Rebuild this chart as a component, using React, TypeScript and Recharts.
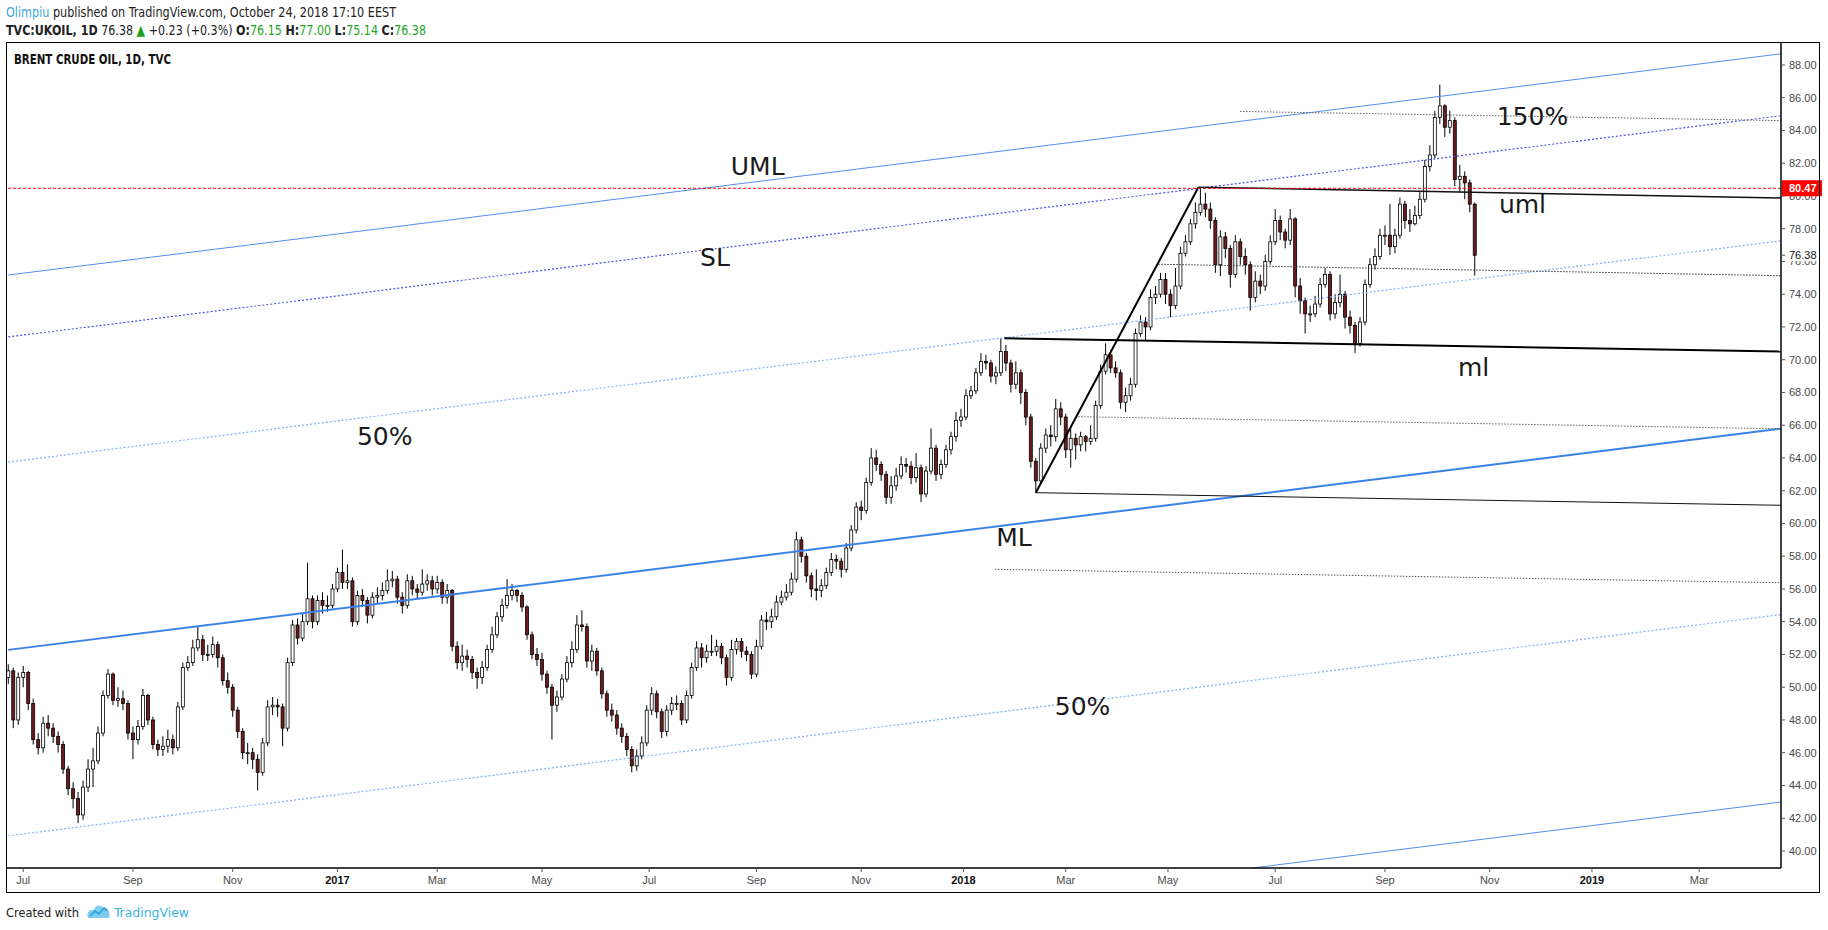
import React from 'react';
import { ComposedChart, Bar, XAxis, YAxis, ReferenceLine, ReferenceDot } from 'recharts';

// ---------- DATA (2 trading days per candle, x = trading-day index) ----------
const barStep = 2;
const firstOpen = 50.6;
const closes = [
  51.0, 48.0, 50.6, 50.9, 49.0, 46.8, 46.3, 47.8, 47.5, 47.0,
  46.5, 45.0, 43.8, 43.2, 42.2, 43.9, 45.0, 45.5, 47.2, 49.5,
  50.8, 49.2, 49.3, 49.0, 47.2, 46.8, 47.6, 49.5, 48.0, 46.5,
  46.2, 46.4, 46.8, 46.3, 48.8, 51.2, 51.5, 52.4, 52.9, 52.0,
  52.0, 52.6, 51.8, 50.4, 50.0, 48.6, 47.3, 46.0, 46.0, 45.6,
  44.8, 46.6, 48.8, 48.9, 48.8, 47.5, 51.5, 53.8, 53.0, 54.0,
  55.4, 54.0, 55.3, 55.0, 55.0, 56.0, 57.0, 56.4, 56.5, 54.0,
  55.6, 55.3, 54.4, 55.5, 55.6, 55.9, 56.5, 56.6, 55.5, 55.0,
  56.5, 56.0, 55.8, 56.3, 56.5, 56.0, 56.4, 55.5, 55.9, 52.5,
  51.5, 51.9, 51.7, 50.9, 50.6, 51.2, 52.3, 53.2, 54.3, 55.0,
  55.6, 55.9, 55.6, 54.9, 53.2, 52.0, 51.7, 50.8, 50.0, 48.9,
  49.4, 50.5, 51.5, 52.3, 53.8, 53.7, 51.6, 52.2, 51.0, 49.6,
  48.6, 48.3, 47.5, 47.0, 46.2, 45.2, 45.8, 46.6, 48.6, 49.6,
  48.5, 47.3, 48.6, 49.0, 49.0, 48.0, 49.5, 51.2, 52.4, 51.8,
  52.2, 52.2, 52.5, 51.8, 50.6, 52.3, 52.8, 52.2, 52.0, 50.8,
  52.5, 54.1, 54.0, 54.3, 55.2, 55.5, 55.8, 56.6, 59.0, 58.0,
  56.8, 56.0, 55.9, 56.2, 57.0, 57.8, 57.7, 57.2, 58.5, 59.6,
  61.0, 60.8, 62.5, 64.0, 63.6, 63.0, 61.6, 62.3, 62.9, 63.6,
  63.5, 62.8, 63.4, 61.8, 63.2, 64.6, 63.0, 63.6, 64.5, 65.3,
  66.3, 66.5, 67.8, 68.1, 69.2, 69.9, 69.8, 69.0, 69.2, 70.5,
  69.8, 68.5, 69.2, 68.0, 66.5, 63.8, 62.6, 64.6, 65.4, 65.3,
  67.0, 66.5, 64.5, 65.2, 64.8, 65.3, 65.0, 65.2, 67.2, 69.3,
  70.3, 69.5, 69.2, 67.4, 67.8, 68.5, 71.6, 72.3, 72.0, 73.8,
  74.0, 74.9, 74.0, 73.3, 74.5, 76.5, 77.2, 78.3, 79.0, 79.5,
  79.2, 78.5, 75.8, 77.5, 76.8, 75.2, 77.2, 76.3, 75.8, 73.8,
  74.8, 74.5, 76.0, 77.2, 78.5, 77.8, 77.3, 78.6, 74.5, 73.6,
  72.8, 72.8, 73.4, 74.6, 75.2, 72.8, 73.5, 74.0, 72.6, 72.1,
  71.0, 72.3, 74.6, 75.8, 76.3, 77.6, 77.6, 76.9, 77.6, 79.5,
  78.5, 78.3, 78.8, 79.8, 81.8, 82.5, 84.8, 85.5, 84.2, 84.6,
  81.0, 81.2, 80.8, 79.5, 76.38,
];
const highs = [
  51.4, 51.2, 50.9, 51.3, 51.0, 49.3, 47.2, 48.2, 48.3, 47.8,
  47.3, 46.7, 45.2, 44.2, 43.6, 44.3, 45.6, 46.3, 47.6, 49.8,
  51.1, 50.9, 50.0, 49.8, 49.2, 47.6, 48.0, 49.9, 49.6, 48.2,
  46.8, 47.0, 47.4, 47.1, 49.1, 51.5, 51.9, 52.9, 53.7, 53.2,
  52.6, 53.1, 52.8, 52.0, 50.9, 50.2, 48.8, 47.5, 46.6, 46.3,
  45.9, 46.9, 49.2, 49.4, 49.3, 49.0, 51.8, 54.1, 54.2, 54.5,
  57.6, 55.6, 55.6, 55.8, 55.6, 56.3, 57.3, 58.4, 57.5, 56.7,
  55.9, 56.0, 55.5, 55.8, 56.1, 56.4, 57.2, 57.1, 56.8, 55.8,
  56.9, 56.8, 56.3, 57.2, 56.9, 56.8, 56.8, 56.6, 56.3, 56.0,
  52.8, 52.6, 52.3, 51.9, 51.2, 51.6, 52.6, 53.7, 54.6, 55.4,
  56.6, 56.3, 56.0, 55.8, 55.0, 53.4, 52.4, 52.1, 51.0, 50.2,
  49.8, 50.8, 51.9, 52.8, 54.4, 54.7, 53.9, 52.6, 52.4, 51.2,
  49.8, 49.0, 48.6, 47.8, 47.2, 46.4, 46.2, 47.0, 48.9, 50.0,
  49.8, 48.7, 48.9, 49.4, 49.5, 49.2, 49.8, 51.5, 52.8, 52.7,
  52.6, 53.2, 52.9, 52.7, 52.0, 52.9, 53.0, 53.0, 52.5, 52.2,
  52.9, 54.4, 54.6, 54.8, 55.6, 55.9, 56.3, 57.0, 59.5, 59.2,
  58.2, 57.0, 57.2, 56.6, 57.3, 58.2, 58.1, 57.9, 58.8, 59.9,
  61.3, 61.4, 62.8, 64.6, 64.5, 63.8, 63.2, 62.9, 63.4, 64.1,
  64.0, 63.8, 64.3, 63.6, 63.5, 65.8, 64.8, 63.9, 64.8, 65.6,
  66.8, 67.0, 68.2, 68.4, 69.5, 70.4, 70.3, 70.0, 69.6, 71.3,
  70.9, 70.0, 69.9, 69.4, 68.2, 66.7, 64.0, 64.9, 65.8, 66.0,
  67.6, 67.4, 66.7, 65.8, 65.5, 65.6, 65.4, 66.0, 67.5, 69.7,
  71.0, 70.6, 69.9, 69.4, 68.3, 68.9, 71.9, 72.7, 72.6, 74.3,
  74.5, 75.3, 75.3, 74.3, 75.6, 76.9, 77.6, 78.6, 79.6, 80.5,
  80.2, 79.6, 78.7, 77.9, 77.8, 77.0, 77.6, 77.4, 76.8, 76.0,
  75.4, 75.2, 76.4, 77.6, 79.2, 78.8, 78.0, 79.2, 78.7, 75.0,
  73.8, 73.3, 73.9, 75.0, 75.6, 75.4, 74.0, 75.2, 74.2, 73.0,
  72.3, 72.6, 74.9, 76.2, 76.8, 78.0, 78.2, 79.5, 78.0, 79.9,
  79.7, 79.2, 79.4, 80.3, 82.2, 83.1, 85.2, 86.8, 85.6, 85.2,
  84.8, 81.9, 81.5, 81.0, 79.6,
];
const lows = [
  50.2, 47.5, 47.7, 50.0, 48.6, 46.5, 45.9, 46.0, 47.0, 46.6,
  46.0, 44.7, 43.4, 42.6, 41.7, 41.9, 43.6, 43.9, 45.3, 47.0,
  49.3, 48.9, 48.8, 48.6, 46.8, 45.6, 46.5, 47.4, 47.7, 46.2,
  45.8, 45.8, 46.0, 45.9, 46.1, 48.6, 51.0, 51.3, 52.2, 51.6,
  51.6, 51.8, 51.2, 50.1, 49.6, 48.2, 46.9, 45.6, 45.3, 45.0,
  43.7, 44.6, 46.4, 48.3, 48.2, 46.4, 47.3, 51.3, 52.6, 52.8,
  53.8, 53.6, 53.8, 54.5, 54.6, 54.8, 55.8, 56.0, 56.0, 53.7,
  53.8, 54.9, 53.9, 54.2, 55.1, 55.3, 55.7, 56.1, 55.1, 54.5,
  54.8, 55.6, 55.4, 55.6, 55.9, 55.6, 55.7, 55.1, 55.1, 52.2,
  51.1, 51.0, 51.2, 50.5, 49.9, 50.2, 51.0, 52.1, 53.0, 54.0,
  54.8, 55.3, 55.2, 54.6, 52.9, 51.7, 51.3, 50.4, 49.6, 46.8,
  48.5, 49.2, 50.3, 51.2, 52.1, 53.4, 51.2, 51.0, 50.7, 49.3,
  48.2, 47.9, 47.1, 46.6, 45.8, 44.8, 44.9, 45.6, 46.4, 48.3,
  48.1, 46.9, 47.0, 48.3, 48.6, 47.7, 47.8, 49.3, 51.0, 51.2,
  51.5, 51.9, 51.9, 51.4, 50.1, 50.4, 52.0, 51.8, 51.6, 50.5,
  50.6, 52.3, 53.5, 53.6, 54.1, 55.0, 55.3, 55.6, 56.4, 57.6,
  56.4, 55.5, 55.3, 55.5, 56.0, 56.8, 57.2, 56.7, 57.0, 58.3,
  59.4, 60.2, 60.6, 62.3, 63.2, 62.6, 61.2, 61.2, 62.0, 62.7,
  63.1, 62.4, 62.5, 61.3, 61.6, 63.0, 62.6, 62.7, 63.4, 64.2,
  65.0, 65.9, 66.3, 67.6, 67.9, 69.0, 69.4, 68.6, 68.5, 69.0,
  69.3, 68.0, 68.2, 67.3, 66.0, 63.4, 61.9, 62.4, 64.3, 64.7,
  65.0, 66.0, 64.0, 63.4, 63.9, 64.4, 64.4, 64.8, 65.0, 67.0,
  69.1, 69.2, 68.9, 67.0, 66.8, 67.5, 68.3, 71.4, 71.2, 71.8,
  73.4, 73.8, 73.4, 72.6, 73.1, 74.3, 76.3, 77.0, 78.0, 78.8,
  78.7, 78.0, 75.3, 75.1, 76.2, 74.4, 75.0, 75.8, 75.2, 73.0,
  73.5, 74.0, 74.2, 75.8, 77.0, 77.3, 76.8, 77.0, 73.8, 72.8,
  71.6, 72.3, 72.6, 73.2, 74.4, 72.4, 72.5, 73.2, 71.9, 71.6,
  70.4, 70.8, 72.1, 74.4, 75.5, 76.1, 77.0, 76.4, 76.5, 77.4,
  78.0, 77.8, 78.2, 78.6, 79.6, 81.5, 82.3, 84.4, 83.6, 83.8,
  80.6, 80.2, 79.8, 79.0, 75.14,
];

const priceTicks = [40, 42, 44, 46, 48, 50, 52, 54, 56, 58, 60, 62, 64, 66, 68, 70, 72, 74, 76, 78, 80, 82, 84, 86, 88];
const monthTicks = [6, 50, 90, 132, 172, 214, 257, 300, 342, 383, 424, 465, 508, 552, 594, 635, 678];
const monthLabels = ['Jul', 'Sep', 'Nov', '2017', 'Mar', 'May', 'Jul', 'Sep', 'Nov', '2018', 'Mar', 'May', 'Jul', 'Sep', 'Nov', '2019', 'Mar'];
const lastPrice = 76.38;
const alertLevel = 80.47;

// Drawing anchors [barIndex, price]
const umlLine = [[0, 75.17], [710.8, 88.68]];
const slLine = [[0, 71.39], [710.8, 84.9]];
const upperHalfLine = [[0, 63.75], [710.8, 77.26]];
const mlLine = [[0, 52.28], [710.8, 65.79]];
const lowerHalfLine = [[0, 40.93], [710.8, 54.44]];
const lmlLine = [[0, 29.48], [710.8, 42.99]];
const forkUml = [[477.2, 80.53], [710.8, 79.88]];
const forkMl = [[399.4, 71.31], [710.8, 70.5]];
const forkLow = [[412.0, 61.88], [710.8, 61.11]];
const forkHandle = [[412.0, 61.88], [477.2, 80.53]];
const level150 = [[493.9, 85.16], [710.8, 84.6]];
const levelUpperMid = [[461.1, 75.83], [710.8, 75.13]];
const levelLowerMid = [[429.0, 66.52], [710.8, 65.78]];
const levelBelow = [[395.6, 57.2], [710.8, 56.38]];

const labelTexts = ['UML', 'SL', '50%', 'ML', '50%', 'ml', '150%', 'uml'];
const labelAnchors = [[289.7, 81.28], [277.4, 75.73], [139.8, 64.79], [396.1, 58.63], [419.6, 48.31], [581.3, 69.01], [596.8, 84.34], [597.7, 78.96]];

// ---------- CHART ----------
const X_DOMAIN: [number, number] = [-0.5, 710.8];
const Y_DOMAIN: [number, number] = [38.96, 89.34];

const rows = closes.map((c, i) => ({
  t: i * barStep,
  o: i === 0 ? firstOpen : closes[i - 1],
  c,
  h: highs[i],
  l: lows[i],
  range: [lows[i], highs[i]],
}));

function clipSeg(pts: number[][]) {
  const [x1, y1] = pts[0];
  const [x2, y2] = pts[1];
  const dx = x2 - x1;
  const dy = y2 - y1;
  let t0 = 0;
  let t1 = 1;
  const p = [-dx, dx, -dy, dy];
  const q = [x1 - X_DOMAIN[0], X_DOMAIN[1] - x1, y1 - Y_DOMAIN[0], Y_DOMAIN[1] - y1];
  for (let i = 0; i < 4; i++) {
    if (p[i] === 0) {
      if (q[i] < 0) return null;
    } else {
      const r = q[i] / p[i];
      if (p[i] < 0) {
        if (r > t1) return null;
        if (r > t0) t0 = r;
      } else {
        if (r < t0) return null;
        if (r < t1) t1 = r;
      }
    }
  }
  return [
    { x: x1 + t0 * dx, y: y1 + t0 * dy },
    { x: x1 + t1 * dx, y: y1 + t1 * dy },
  ];
}

const drawnLines = [
  { pts: umlLine, stroke: '#4f8ff0', w: 1, dash: undefined },
  { pts: slLine, stroke: '#5050f0', w: 1.2, dash: '2 2' },
  { pts: upperHalfLine, stroke: '#86aef2', w: 1.2, dash: '2 2' },
  { pts: mlLine, stroke: '#3b80ea', w: 2, dash: undefined },
  { pts: lowerHalfLine, stroke: '#86aef2', w: 1.2, dash: '2 2' },
  { pts: lmlLine, stroke: '#4f8ff0', w: 1, dash: undefined },
  { pts: level150, stroke: '#666', w: 1, dash: '1.5 1.5' },
  { pts: levelUpperMid, stroke: '#333', w: 1, dash: '1.5 1.5' },
  { pts: levelLowerMid, stroke: '#666', w: 1, dash: '1.5 1.5' },
  { pts: levelBelow, stroke: '#555', w: 1, dash: '1.5 1.5' },
  { pts: forkUml, stroke: '#111', w: 1.5, dash: undefined },
  { pts: forkMl, stroke: '#000', w: 2, dash: undefined },
  { pts: forkLow, stroke: '#111', w: 1, dash: undefined },
  { pts: forkHandle, stroke: '#000', w: 2, dash: undefined },
];

const Candle = (props: any) => {
  const { x, width, payload } = props;
  let { y, height } = props;
  if (height < 0) {
    y += height;
    height = -height;
  }
  const { o, c, h, l } = payload;
  const k = h - l === 0 ? 0 : height / (h - l);
  const top = y + (h - Math.max(o, c)) * k;
  const bot = y + (h - Math.min(o, c)) * k;
  const up = c >= o;
  const cx = x + width / 2;
  return (
    <g>
      <line x1={cx} x2={cx} y1={y} y2={y + height} stroke="#000" strokeWidth={1} />
      <rect x={x} y={top} width={width} height={Math.max(bot - top, 1)} fill={up ? '#ffffff' : '#6e1b1b'} stroke="#000" strokeWidth={0.8} />
    </g>
  );
};

const axisFont = '"Liberation Sans", Arial, sans-serif';

const YTick = (props: any) => {
  const { x, y, payload } = props;
  const v = payload.value;
  if (v === alertLevel) {
    return (
      <g>
        <rect x={x - 6} y={y - 8} width={40} height={16} fill="#ff0000" />
        <text x={x + 1} y={y} dy="0.36em" fill="#ffffff" fontWeight="bold" fontSize={11} fontFamily={axisFont}>{v.toFixed(2)}</text>
      </g>
    );
  }
  if (v === lastPrice) {
    return (
      <g>
        <rect x={x - 2} y={y - 7} width={36} height={13} fill="#ffffff" />
        <text x={x + 1} y={y} dy="0.36em" fill="#111" fontSize={11} fontFamily={axisFont}>{v.toFixed(2)}</text>
      </g>
    );
  }
  return (
    <text x={x + 1} y={y} dy="0.36em" fill="#4a4a4a" fontSize={11} fontFamily={axisFont}>{v.toFixed(2)}</text>
  );
};

const XTick = (props: any) => {
  const { x, y, payload } = props;
  const i = monthTicks.indexOf(payload.value);
  const lab = i >= 0 ? monthLabels[i] : '';
  const isYear = /^\d{4}$/.test(lab);
  return (
    <text x={x} y={y} dy="0.71em" textAnchor="middle" fontSize={11} fontWeight={isYear ? 'bold' : 'normal'} fill={isYear ? '#111' : '#4a4a4a'} fontFamily={axisFont}>
      {lab}
    </text>
  );
};

const headFont = '"Liberation Sans Narrow", "DejaVu Sans Condensed", "Liberation Sans", Arial, sans-serif';

export default function App() {
  const green = '#25a525';
  const dark = '#222';
  return (
    <div style={{ position: 'absolute', left: 0, top: 0, width: 1828, height: 930, background: '#fff', overflow: 'hidden' }}>
      <ComposedChart width={1828} height={930} data={rows} margin={{ top: 43, left: 7, right: 8, bottom: 37 }}>
        <XAxis
          dataKey="t"
          type="number"
          domain={X_DOMAIN}
          allowDataOverflow
          ticks={monthTicks}
          interval={0}
          tick={<XTick />}
          tickSize={4}
          tickMargin={4}
          height={25}
          axisLine={{ stroke: '#000', strokeWidth: 1.5 }}
          tickLine={{ stroke: '#555' }}
        />
        <YAxis
          orientation="right"
          type="number"
          domain={Y_DOMAIN}
          allowDataOverflow
          ticks={[...priceTicks, lastPrice, alertLevel]}
          interval={0}
          tick={<YTick />}
          tickSize={4}
          tickMargin={3}
          width={39}
          axisLine={{ stroke: '#000', strokeWidth: 1.5 }}
          tickLine={{ stroke: '#555' }}
        />
        {drawnLines.map((d, i) => {
          const seg = clipSeg(d.pts);
          if (!seg) return null;
          return (
            <ReferenceLine key={'l' + i} segment={seg} stroke={d.stroke} strokeWidth={d.w} strokeDasharray={d.dash} ifOverflow="visible" />
          );
        })}
        <ReferenceLine y={alertLevel} stroke="#ff0000" strokeWidth={1} strokeDasharray="3 2" ifOverflow="visible" />
        <Bar dataKey="range" barSize={3} isAnimationActive={false} shape={(p: any) => <Candle {...p} />} />
        {labelAnchors.map((a, i) => (
          <ReferenceDot
            key={'t' + i}
            x={a[0]}
            y={a[1]}
            r={0}
            ifOverflow="visible"
            shape={(p: any) => (
              <text x={p.cx} y={p.cy} fontSize={25} fill="#1a1a1a" fontFamily='"DejaVu Sans", Verdana, sans-serif'>
                {labelTexts[i]}
              </text>
            )}
          />
        ))}
      </ComposedChart>
      <svg width={1828} height={930} style={{ position: 'absolute', left: 0, top: 0, pointerEvents: 'none' }}>
        <rect x={6.5} y={42.5} width={1813} height={850} fill="none" stroke="#000" strokeWidth={1} />
        <text x={6} y={17} textLength={390} lengthAdjust="spacingAndGlyphs" fontSize={14.5} fontFamily={headFont} fill={dark}>
          <tspan fill="#3aa9dc">Olimpiu</tspan> published on TradingView.com, October 24, 2018 17:10 EEST
        </text>
        <text x={6} y={35} textLength={420} lengthAdjust="spacingAndGlyphs" fontSize={14.5} fontFamily={headFont} fill={dark}>
          <tspan fontWeight="bold">TVC:UKOIL, 1D</tspan>{'  76.38 '}
          <tspan fill="#1e9e1e">▲</tspan>{' +0.23 (+0.3%) '}
          <tspan fontWeight="bold">O:</tspan><tspan fill={green}>76.15</tspan>{' '}
          <tspan fontWeight="bold">H:</tspan><tspan fill={green}>77.00</tspan>{' '}
          <tspan fontWeight="bold">L:</tspan><tspan fill={green}>75.14</tspan>{' '}
          <tspan fontWeight="bold">C:</tspan><tspan fill={green}>76.38</tspan>
        </text>
        <text x={14} y={64} textLength={157} lengthAdjust="spacingAndGlyphs" fontSize={13.5} fontWeight="bold" fontFamily={headFont} fill="#111">
          BRENT CRUDE OIL, 1D, TVC
        </text>
        <text x={6} y={917} textLength={73} lengthAdjust="spacingAndGlyphs" fontSize={12.5} fontFamily={headFont} fill={dark}>
          Created with
        </text>
        <path d="M88 918 C86 912 90 909 94 910 C95 905 101 904 103 908 C107 907 111 911 109 918 Z" fill="#7ccdf0" />
        <path d="M90 916 L95 911 L99 914 L104 908 L107 911" fill="none" stroke="#2a9fd8" strokeWidth={1.6} />
        <text x={114} y={917} textLength={75} lengthAdjust="spacingAndGlyphs" fontSize={12.5} fontFamily={headFont} fill="#3bb3e4">
          TradingView
        </text>
      </svg>
    </div>
  );
}
